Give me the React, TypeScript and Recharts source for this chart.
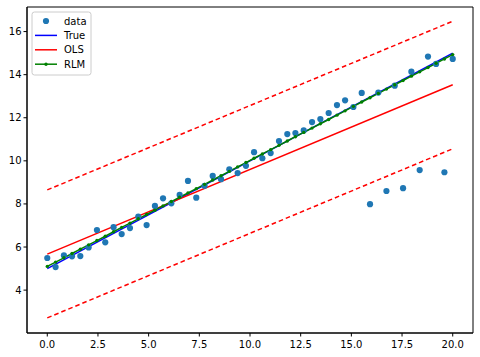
import { ComposedChart, Line, XAxis, YAxis, ReferenceArea } from "recharts";

// x positions of the 50 observations
const XS = [
  0, 0.41, 0.82, 1.22, 1.63, 2.04, 2.45, 2.86, 3.27, 3.67, 4.08, 4.49, 4.9,
  5.31, 5.71, 6.12, 6.53, 6.94, 7.35, 7.76, 8.16, 8.57, 8.98, 9.39, 9.8, 10.2,
  10.61, 11.02, 11.43, 11.84, 12.24, 12.65, 13.06, 13.47, 13.88, 14.29, 14.69,
  15.1, 15.51, 15.92, 16.33, 16.73, 17.14, 17.55, 17.96, 18.37, 18.78, 19.18,
  19.59, 20.0,
];

const DATA_Y = [
  5.49, 5.07, 5.61, 5.57, 5.58, 5.98, 6.79, 6.22, 6.92, 6.6, 6.88, 7.41, 7.02,
  7.91, 8.26, 8.03, 8.42, 9.07, 8.29, 8.84, 9.3, 9.15, 9.61, 9.43, 9.77, 10.4,
  10.12, 10.36, 10.92, 11.24, 11.29, 11.41, 11.8, 11.94, 12.22, 12.59, 12.81,
  12.5, 13.15, 7.99, 13.17, 8.6, 13.49, 8.73, 14.14, 9.57, 14.84, 14.5, 9.47,
  14.73,
];

const RLM_Y = [
  5.1, 5.3, 5.5, 5.7, 5.9, 6.1, 6.3, 6.5, 6.71, 6.91, 7.11, 7.31, 7.51, 7.71,
  7.91, 8.11, 8.31, 8.51, 8.71, 8.91, 9.11, 9.31, 9.51, 9.72, 9.92, 10.12,
  10.32, 10.52, 10.72, 10.92, 11.12, 11.32, 11.52, 11.72, 11.92, 12.12, 12.32,
  12.53, 12.73, 12.93, 13.13, 13.33, 13.53, 13.73, 13.93, 14.13, 14.33, 14.53,
  14.73, 14.93,
];

// straight lines: values at x = 0 and x = 20
const TRUE_ENDS = [5.0, 15.0];
const OLS_ENDS = [5.67, 13.53];
const UPPER_ENDS = [8.65, 16.48];
const LOWER_ENDS = [2.71, 10.56];

const X_TICKS = [0, 2.5, 5, 7.5, 10, 12.5, 15, 17.5, 20];
const Y_TICKS = [4, 6, 8, 10, 12, 14, 16];

const last = XS.length - 1;
const ends = (arr: number[], i: number) =>
  i === 0 ? arr[0] : i === last ? arr[1] : null;

const rows = XS.map((x, i) => ({
  x,
  data: DATA_Y[i],
  rlm: RLM_Y[i],
  truth: ends(TRUE_ENDS, i),
  ols: ends(OLS_ENDS, i),
  upper: ends(UPPER_ENDS, i),
  lower: ends(LOWER_ENDS, i),
}));

const FONT = "DejaVu Sans";
const LW = 1.5;
const DOT_R = 3.1;

const LEGEND = [
  { label: "data", color: "#1f77b4", kind: "dot" },
  { label: "True", color: "#0000ff", kind: "line" },
  { label: "OLS", color: "#ff0000", kind: "line" },
  { label: "RLM", color: "#008000", kind: "linedot" },
];

function LegendBox() {
  return (
    <svg
      width={61}
      height={65}
      style={{ position: "absolute", left: 31, top: 11 }}
    >
      <rect
        x={1}
        y={1}
        width={59}
        height={63}
        rx={2.5}
        fill="rgba(255,255,255,0.8)"
        stroke="#cccccc"
        strokeWidth={1}
      />
      {LEGEND.map((item, i) => {
        const cy = 10 + i * 14.4;
        return (
          <g key={item.label}>
            {item.kind !== "dot" && (
              <line
                x1={4}
                x2={26}
                y1={cy}
                y2={cy}
                stroke={item.color}
                strokeWidth={LW}
              />
            )}
            {item.kind === "dot" && (
              <circle cx={15} cy={cy} r={DOT_R} fill={item.color} />
            )}
            {item.kind === "linedot" && (
              <circle cx={15} cy={cy} r={1.7} fill={item.color} />
            )}
            <text
              x={33}
              y={cy + 3.6}
              fontSize={10}
              fontFamily={FONT}
              fill="#000"
            >
              {item.label}
            </text>
          </g>
        );
      })}
    </svg>
  );
}

export default function App() {
  const tick = { fill: "#000", fontSize: 10, fontFamily: FONT };
  return (
    <div
      style={{
        position: "absolute",
        left: 0,
        top: 0,
        width: 480,
        height: 357,
        background: "#fff",
      }}
    >
      <ComposedChart
        width={480}
        height={357}
        data={rows}
        margin={{ top: 7, right: 7, left: 0, bottom: 0 }}
      >
        <XAxis
          type="number"
          dataKey="x"
          domain={[-1, 21]}
          ticks={X_TICKS}
          interval={0}
          allowDataOverflow
          tickFormatter={(v: number) => v.toFixed(1)}
          tick={tick}
          tickSize={3.5}
          tickMargin={4}
          axisLine={{ stroke: "#000" }}
          tickLine={{ stroke: "#000" }}
          height={24}
        />
        <YAxis
          type="number"
          domain={[2.01, 17.14]}
          ticks={Y_TICKS}
          interval={0}
          allowDataOverflow
          tick={tick}
          tickSize={3.5}
          tickMargin={2}
          axisLine={{ stroke: "#000" }}
          tickLine={{ stroke: "#000" }}
          width={27}
        />
        <Line
          dataKey="data"
          stroke="none"
          dot={{ r: DOT_R, fill: "#1f77b4", stroke: "none", strokeWidth: 0 }}
          activeDot={false}
          isAnimationActive={false}
        />
        <Line
          dataKey="truth"
          type="linear"
          stroke="#0000ff"
          strokeWidth={LW}
          dot={false}
          activeDot={false}
          connectNulls
          isAnimationActive={false}
        />
        <Line
          dataKey="ols"
          type="linear"
          stroke="#ff0000"
          strokeWidth={LW}
          dot={false}
          activeDot={false}
          connectNulls
          isAnimationActive={false}
        />
        <Line
          dataKey="rlm"
          type="linear"
          stroke="#008000"
          strokeWidth={LW}
          dot={{ r: 1.7, fill: "#008000", stroke: "none", strokeWidth: 0 }}
          activeDot={false}
          isAnimationActive={false}
        />
        <Line
          dataKey="upper"
          type="linear"
          stroke="#ff0000"
          strokeWidth={LW}
          strokeDasharray="4.6 3"
          dot={false}
          activeDot={false}
          connectNulls
          isAnimationActive={false}
        />
        <Line
          dataKey="lower"
          type="linear"
          stroke="#ff0000"
          strokeWidth={LW}
          strokeDasharray="4.6 3"
          dot={false}
          activeDot={false}
          connectNulls
          isAnimationActive={false}
        />
        <ReferenceArea
          x1={-1}
          x2={21}
          y1={2.01}
          y2={17.14}
          fill="none"
          stroke="#000"
          strokeWidth={1}
          ifOverflow="visible"
        />
      </ComposedChart>
      <LegendBox />
    </div>
  );
}
